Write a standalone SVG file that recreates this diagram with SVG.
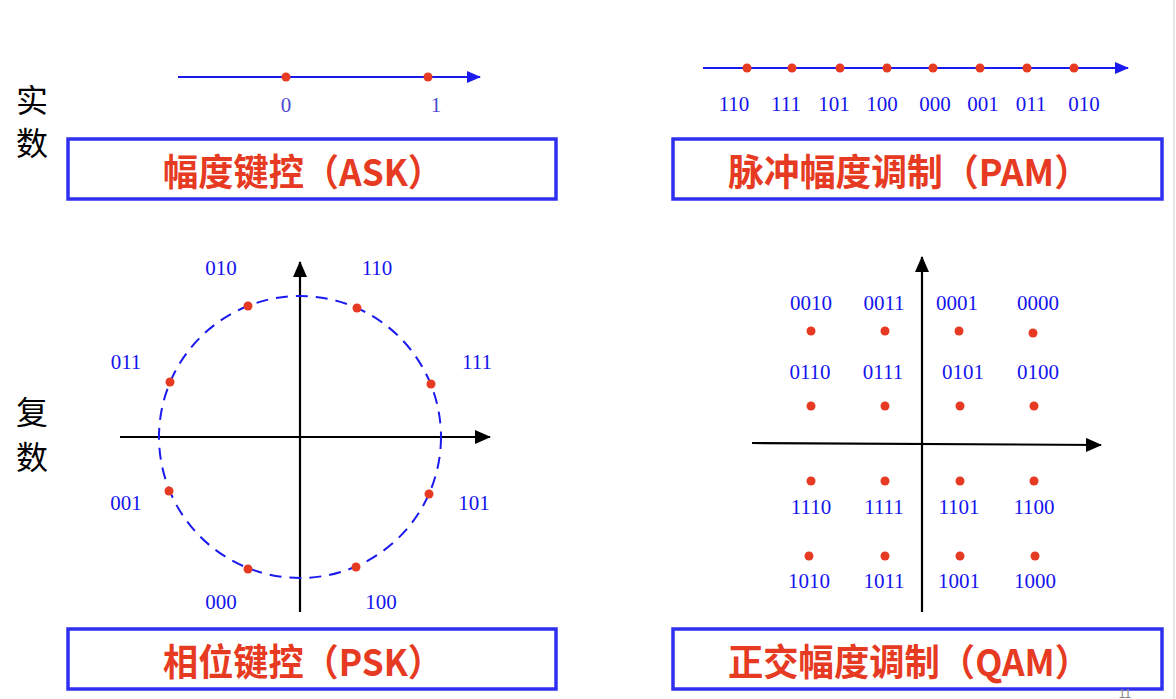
<svg xmlns="http://www.w3.org/2000/svg" width="1176" height="699" viewBox="0 0 1176 699">
<defs>
<style>
.box{fill:#fff;stroke:#2f2ff0;stroke-width:3.5}
.title{font-family:"Noto Sans CJK SC","Liberation Sans",sans-serif;font-weight:bold;font-size:37px;fill:#e63a22;text-anchor:middle}
.lbl{font-family:"Liberation Serif",serif;font-size:21px;fill:#1414ee;text-anchor:middle}
.side{font-family:"Noto Sans CJK SC",serif;font-size:32px;fill:#000;text-anchor:middle}
.bl{stroke:#1a1aee;stroke-width:2;fill:none}
.ax{stroke:#000;stroke-width:2.2;fill:none}
.dot{fill:#e63a22}
</style>
<marker id="ab" markerWidth="14" markerHeight="12" refX="13" refY="6" orient="auto" markerUnits="userSpaceOnUse"><path d="M0,0 L14,6 L0,12 Z" fill="#1a1aee"/></marker>
<marker id="ak" markerWidth="16" markerHeight="14" refX="15" refY="7" orient="auto" markerUnits="userSpaceOnUse"><path d="M0,0 L16,7 L0,14 Z" fill="#000"/></marker>
</defs>
<rect width="1176" height="699" fill="#fff"/>
<line x1="1174" y1="0" x2="1174" y2="699" stroke="#dddddd" stroke-width="1.5"/>

<g id="side-labels">
<text class="side" x="32" y="112">实</text>
<text class="side" x="32" y="155">数</text>
<text class="side" x="32" y="424">复</text>
<text class="side" x="32" y="469">数</text>
</g>

<g id="connectors">
<line class="bl" x1="178" y1="77" x2="480" y2="77" marker-end="url(#ab)"/>
<line class="bl" x1="703" y1="68" x2="1128" y2="68" marker-end="url(#ab)"/>
<line class="ax" x1="120" y1="437" x2="490" y2="437" marker-end="url(#ak)"/>
<line class="ax" x1="300" y1="612" x2="300" y2="262" marker-end="url(#ak)"/>
<circle cx="300" cy="437" r="141" fill="none" stroke="#1a1aee" stroke-width="2" stroke-dasharray="12,8"/>
<line class="ax" x1="752" y1="443" x2="1101" y2="445" marker-end="url(#ak)"/>
<line class="ax" x1="922" y1="612" x2="922" y2="257" marker-end="url(#ak)"/>
</g>

<g id="ask">
<circle class="dot" cx="286" cy="77" r="4.5"/>
<circle class="dot" cx="428" cy="77" r="4.5"/>
<text class="lbl" x="286" y="112" style="fill:#4a4ad0">0</text>
<text class="lbl" x="436" y="112" style="fill:#4a4ad0">1</text>
<rect class="box" x="68" y="139" width="488" height="60"/>
<text class="title" x="303" y="186" textLength="280" lengthAdjust="spacingAndGlyphs">幅度键控（ASK）</text>
</g>

<g id="pam">
<circle class="dot" cx="747" cy="68" r="4.5"/>
<circle class="dot" cx="792" cy="68" r="4.5"/>
<circle class="dot" cx="840" cy="68" r="4.5"/>
<circle class="dot" cx="887" cy="68" r="4.5"/>
<circle class="dot" cx="933" cy="68" r="4.5"/>
<circle class="dot" cx="980" cy="68" r="4.5"/>
<circle class="dot" cx="1027" cy="68" r="4.5"/>
<circle class="dot" cx="1074" cy="68" r="4.5"/>
<text class="lbl" x="734" y="111">110</text>
<text class="lbl" x="786" y="111">111</text>
<text class="lbl" x="834" y="111">101</text>
<text class="lbl" x="882" y="111">100</text>
<text class="lbl" x="935" y="111">000</text>
<text class="lbl" x="983" y="111">001</text>
<text class="lbl" x="1031" y="111">011</text>
<text class="lbl" x="1084" y="111">010</text>
<rect class="box" x="673" y="139" width="489" height="60"/>
<text class="title" x="909" y="186" textLength="362" lengthAdjust="spacingAndGlyphs">脉冲幅度调制（PAM）</text>
</g>

<g id="psk">
<circle class="dot" cx="248" cy="306" r="4.5"/>
<circle class="dot" cx="357" cy="308" r="4.5"/>
<circle class="dot" cx="170" cy="382" r="4.5"/>
<circle class="dot" cx="431" cy="384" r="4.5"/>
<circle class="dot" cx="169" cy="491" r="4.5"/>
<circle class="dot" cx="429" cy="494" r="4.5"/>
<circle class="dot" cx="248" cy="569" r="4.5"/>
<circle class="dot" cx="356" cy="567" r="4.5"/>
<text class="lbl" x="221" y="275">010</text>
<text class="lbl" x="377" y="275">110</text>
<text class="lbl" x="126" y="369">011</text>
<text class="lbl" x="477" y="369">111</text>
<text class="lbl" x="126" y="510">001</text>
<text class="lbl" x="474" y="510">101</text>
<text class="lbl" x="221" y="609">000</text>
<text class="lbl" x="381" y="609">100</text>
<rect class="box" x="68" y="629" width="488" height="60"/>
<text class="title" x="303" y="676" textLength="280" lengthAdjust="spacingAndGlyphs">相位键控（PSK）</text>
</g>

<g id="qam">
<circle class="dot" cx="811" cy="331" r="4.5"/>
<circle class="dot" cx="885" cy="331" r="4.5"/>
<circle class="dot" cx="959" cy="331" r="4.5"/>
<circle class="dot" cx="1033" cy="333" r="4.5"/>
<circle class="dot" cx="811" cy="406" r="4.5"/>
<circle class="dot" cx="885" cy="406" r="4.5"/>
<circle class="dot" cx="960" cy="406" r="4.5"/>
<circle class="dot" cx="1034" cy="406" r="4.5"/>
<circle class="dot" cx="811" cy="481" r="4.5"/>
<circle class="dot" cx="885" cy="481" r="4.5"/>
<circle class="dot" cx="960" cy="481" r="4.5"/>
<circle class="dot" cx="1034" cy="481" r="4.5"/>
<circle class="dot" cx="809" cy="556" r="4.5"/>
<circle class="dot" cx="885" cy="556" r="4.5"/>
<circle class="dot" cx="960" cy="556" r="4.5"/>
<circle class="dot" cx="1035" cy="556" r="4.5"/>
<text class="lbl" x="811" y="310">0010</text>
<text class="lbl" x="884" y="310">0011</text>
<text class="lbl" x="957" y="310">0001</text>
<text class="lbl" x="1038" y="310">0000</text>
<text class="lbl" x="810" y="379">0110</text>
<text class="lbl" x="883" y="379">0111</text>
<text class="lbl" x="963" y="379">0101</text>
<text class="lbl" x="1038" y="379">0100</text>
<text class="lbl" x="811" y="514">1110</text>
<text class="lbl" x="884" y="514">1111</text>
<text class="lbl" x="959" y="514">1101</text>
<text class="lbl" x="1034" y="514">1100</text>
<text class="lbl" x="809" y="588">1010</text>
<text class="lbl" x="884" y="588">1011</text>
<text class="lbl" x="959" y="588">1001</text>
<text class="lbl" x="1035" y="588">1000</text>
<rect class="box" x="673" y="629" width="489" height="60"/>
<text class="title" x="909" y="676" textLength="362" lengthAdjust="spacingAndGlyphs">正交幅度调制（QAM）</text>
</g>

<text x="1125" y="698" font-family="Liberation Sans,sans-serif" font-size="12" fill="#888" text-anchor="middle">11</text>
</svg>
